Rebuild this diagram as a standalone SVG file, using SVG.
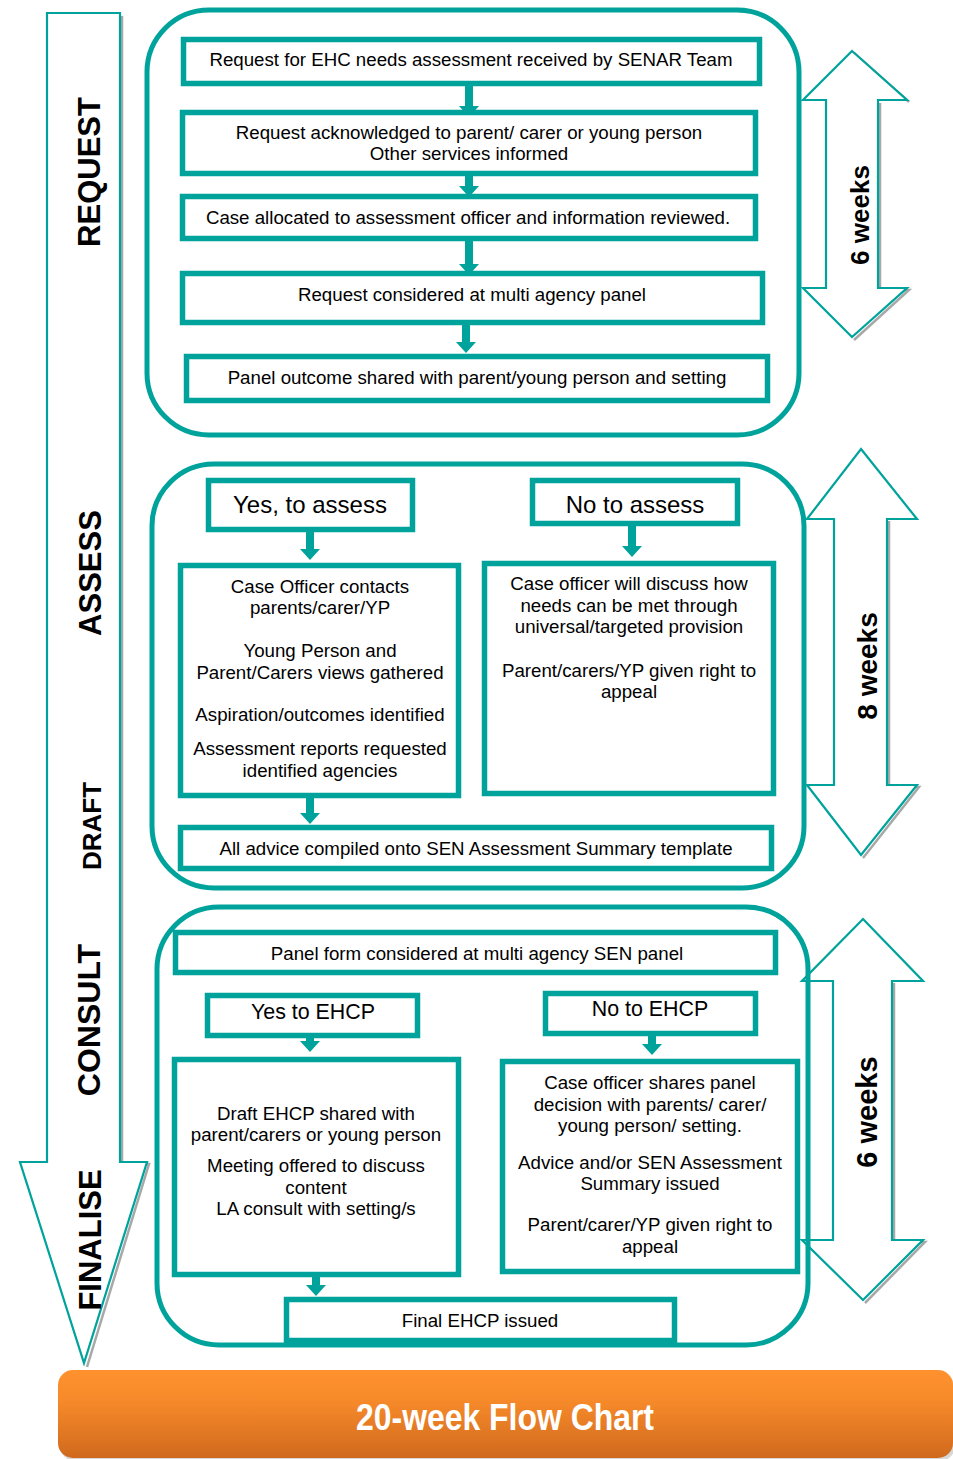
<svg xmlns="http://www.w3.org/2000/svg" width="953" height="1459" viewBox="0 0 953 1459">
<defs>
<linearGradient id="og" x1="0" y1="0" x2="0" y2="1">
<stop offset="0" stop-color="#ff922e"/>
<stop offset="0.35" stop-color="#f68a2a"/>
<stop offset="1" stop-color="#d0691d"/>
</linearGradient>
<style>
.grp{fill:none;stroke:#00a39b;stroke-width:5}
.box{fill:#fff;stroke:#00a39b;stroke-width:5.5}
.big{fill:#fff;stroke:#00a39b;stroke-width:2.2}
.shd{fill:none;stroke:#a8a8a8;stroke-width:2.5}
.t{font-family:"Liberation Sans",Arial,sans-serif;font-size:18.7px;fill:#000;text-anchor:middle}
.t24{font-family:"Liberation Sans",Arial,sans-serif;font-size:24px;fill:#000;text-anchor:middle}
.t21{font-family:"Liberation Sans",Arial,sans-serif;font-size:21.4px;fill:#000;text-anchor:middle}
.lab{font-family:"Liberation Sans",Arial,sans-serif;font-weight:bold;fill:#000;text-anchor:middle}
.conn{fill:#00a39b}
</style>
</defs>
<rect width="953" height="1459" fill="#fff"/>

<!-- big left arrow -->
<g id="stage-arrow">
<path class="shd" d="M122,16 L122,1164 L149,1164 L87,1367"/>
<path class="big" d="M47,13 L120,13 L120,1162 L147,1162 L84,1363 L20,1162 L47,1162 Z"/>
<text class="lab" font-size="31" transform="translate(100,172) rotate(-90)">REQUEST</text>
<text class="lab" font-size="31" transform="translate(101,573) rotate(-90)">ASSESS</text>
<text class="lab" font-size="26" transform="translate(101,826) rotate(-90)">DRAFT</text>
<text class="lab" font-size="32" transform="translate(100,1020) rotate(-90)">CONSULT</text>
<text class="lab" font-size="31" transform="translate(101,1240) rotate(-90)">FINALISE</text>
</g>

<!-- week arrows -->
<g id="weeks-1">
<path class="shd" d="M828,102 L828,290 M880,103 L880,290 L909,290 L854,340 M909,102 L854,53"/>
<path class="big" d="M852,51 L907,100 L878,100 L878,288 L907,288 L852,337 L803,288 L826,288 L826,100 L803,100 Z"/>
<text class="lab" font-size="26" transform="translate(869,215) rotate(-90)">6 weeks</text>
</g>
<g id="weeks-2">
<path class="shd" d="M836,521 L836,787 M889,521 L889,787 L919,787 L863,858"/>
<path class="big" d="M861,449 L917,519 L887,519 L887,785 L917,785 L861,855 L807,785 L834,785 L834,519 L807,519 Z"/>
<text class="lab" font-size="28" transform="translate(877,666) rotate(-90)">8 weeks</text>
</g>
<g id="weeks-3">
<path class="shd" d="M835,983 L835,1242 M894,983 L894,1242 L925,1242 L865,1303"/>
<path class="big" d="M863,919 L923,981 L892,981 L892,1240 L923,1240 L863,1300 L802,1240 L833,1240 L833,981 L802,981 Z"/>
<text class="lab" font-size="29" transform="translate(877,1112) rotate(-90)">6 weeks</text>
</g>

<!-- groups -->
<g id="group-request"><rect class="grp" x="147" y="10" width="652" height="425" rx="62"/></g>
<g id="group-assess"><rect class="grp" x="152" y="464" width="652" height="424" rx="62"/></g>
<g id="group-consult"><rect class="grp" x="157" y="907" width="651" height="438" rx="62"/></g>

<!-- connectors -->
<g id="connectors">
<path class="conn" d="M465,86 h8 v20 h6 l-10,11 l-10,-11 h6 z"/>
<path class="conn" d="M465,170 h8 v16 h6 l-10,11 l-10,-11 h6 z"/>
<path class="conn" d="M465,241 h8 v23 h6 l-10,11 l-10,-11 h6 z"/>
<path class="conn" d="M462,325 h8 v17 h6 l-10,11 l-10,-11 h6 z"/>
<path class="conn" d="M306,532 h8 v17 h6 l-10,11 l-10,-11 h6 z"/>
<path class="conn" d="M628,526 h8 v20 h6 l-10,11 l-10,-11 h6 z"/>
<path class="conn" d="M306,796 h8 v17 h6 l-10,11 l-10,-11 h6 z"/>
<path class="conn" d="M306,1036 h8 v5 h6 l-10,11 l-10,-11 h6 z"/>
<path class="conn" d="M648,1034 h8 v10 h6 l-10,11 l-10,-11 h6 z"/>
<path class="conn" d="M312,1277 h8 v8 h6 l-10,11 l-10,-11 h6 z"/>
</g>

<!-- request nodes -->
<g id="n1"><rect class="box" x="183.5" y="39.5" width="576" height="44"/>
<text class="t" x="471" y="66">Request for EHC needs assessment received by SENAR Team</text></g>
<g id="n2"><rect class="box" x="182.5" y="112.5" width="573" height="61"/>
<text class="t" x="469" y="139">Request acknowledged to parent/ carer or young person</text>
<text class="t" x="469" y="160">Other services informed</text></g>
<g id="n3"><rect class="box" x="182.5" y="196.5" width="573" height="42"/>
<text class="t" x="468" y="224">Case allocated to assessment officer and information reviewed.</text></g>
<g id="n4"><rect class="box" x="182.5" y="273.5" width="580" height="49"/>
<text class="t" x="472" y="301">Request considered at multi agency panel</text></g>
<g id="n5"><rect class="box" x="186.5" y="356.5" width="581" height="44"/>
<text class="t" x="477" y="384">Panel outcome shared with parent/young person and setting</text></g>

<!-- assess nodes -->
<g id="yes-assess"><rect class="box" x="208.5" y="480.5" width="204" height="49"/>
<text class="t24" x="310" y="513">Yes, to assess</text></g>
<g id="no-assess"><rect class="box" x="532.5" y="480.5" width="205" height="43"/>
<text class="t24" x="635" y="513">No to assess</text></g>
<g id="assess-left"><rect class="box" x="180.5" y="565.5" width="278" height="230"/>
<text class="t" x="320" y="593">Case Officer contacts</text>
<text class="t" x="320" y="614">parents/carer/YP</text>
<text class="t" x="320" y="657">Young Person and</text>
<text class="t" x="320" y="679">Parent/Carers views gathered</text>
<text class="t" x="320" y="721">Aspiration/outcomes identified</text>
<text class="t" x="320" y="755">Assessment reports requested</text>
<text class="t" x="320" y="777">identified agencies</text></g>
<g id="assess-right"><rect class="box" x="484.5" y="563.5" width="289" height="230"/>
<text class="t" x="629" y="590">Case officer will discuss how</text>
<text class="t" x="629" y="612">needs can be met through</text>
<text class="t" x="629" y="633">universal/targeted provision</text>
<text class="t" x="629" y="677">Parent/carers/YP given right to</text>
<text class="t" x="629" y="698">appeal</text></g>
<g id="advice"><rect class="box" x="180.5" y="827.5" width="591" height="41"/>
<text class="t" x="476" y="855">All advice compiled onto SEN Assessment Summary template</text></g>

<!-- consult nodes -->
<g id="panel-form"><rect class="box" x="175.5" y="932.5" width="600" height="40"/>
<text class="t" x="477" y="960">Panel form considered at multi agency SEN panel</text></g>
<g id="yes-ehcp"><rect class="box" x="207.5" y="995.5" width="210" height="40"/>
<text class="t21" x="313" y="1019">Yes to EHCP</text></g>
<g id="no-ehcp"><rect class="box" x="545.5" y="993.5" width="210" height="40"/>
<text class="t21" x="650" y="1016">No to EHCP</text></g>
<g id="draft"><rect class="box" x="174.5" y="1059.5" width="284" height="215"/>
<text class="t" x="316" y="1120">Draft EHCP shared with</text>
<text class="t" x="316" y="1141">parent/carers or young person</text>
<text class="t" x="316" y="1172">Meeting offered to discuss</text>
<text class="t" x="316" y="1194">content</text>
<text class="t" x="316" y="1215">LA consult with setting/s</text></g>
<g id="no-ehcp-detail"><rect class="box" x="502.5" y="1061.5" width="295" height="210"/>
<text class="t" x="650" y="1089">Case officer shares panel</text>
<text class="t" x="650" y="1111">decision with parents/ carer/</text>
<text class="t" x="650" y="1132">young person/ setting.</text>
<text class="t" x="650" y="1169">Advice and/or SEN Assessment</text>
<text class="t" x="650" y="1190">Summary issued</text>
<text class="t" x="650" y="1231">Parent/carer/YP given right to</text>
<text class="t" x="650" y="1253">appeal</text></g>
<g id="final"><rect class="box" x="286.5" y="1299.5" width="388" height="41"/>
<text class="t" x="480" y="1327">Final EHCP issued</text></g>

<!-- banner -->
<g id="banner">
<rect x="60" y="1373" width="895" height="88" rx="15" fill="#bdbdbd" opacity="0.6"/>
<rect x="58" y="1370" width="895" height="88" rx="15" fill="url(#og)"/>
<text x="505" y="1430" font-family="'Liberation Sans',Arial,sans-serif" font-weight="bold" font-size="36" fill="#fff" text-anchor="middle" textLength="298" lengthAdjust="spacingAndGlyphs">20-week Flow Chart</text>
</g>
</svg>
